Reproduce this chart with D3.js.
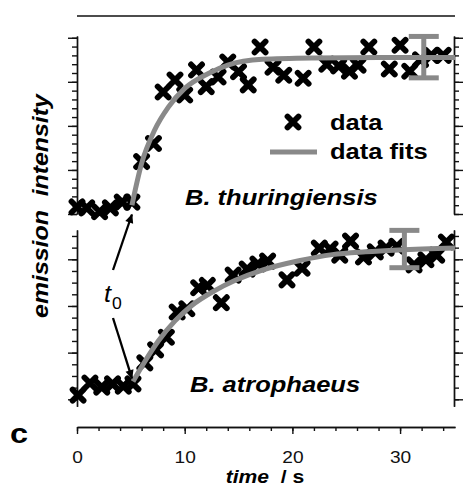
<!DOCTYPE html>
<html>
<head>
<meta charset="utf-8">
<script src="https://cdn.jsdelivr.net/npm/d3@7"></script>
<style>
  body { margin: 0; background: #fff; }
  text { font-family: "Liberation Sans", Arial, sans-serif; }
</style>
</head>
<body>
<svg id="chart" width="466" height="487"></svg>
<script>
// B. thuringiensis (top panel)
var topTime = [0, 0.9, 2.1, 3.1, 4.2, 5.1, 6.0, 7.1, 8.0, 9.1, 10.0, 11.1, 12.0, 13.1, 14.0, 15.0, 15.9, 17.0,
	18.2, 19.2, 21.0, 22.0, 23.2, 24.3, 25.3, 26.1, 27.1, 29.0, 30.0, 30.9, 31.9, 32.9, 34.0];
var topData = [0.16, 0.14, 0.05, 0.14, 0.27, 0.27, 1.19, 1.60, 2.77, 3.04, 2.70, 3.27, 2.89, 3.11, 3.45, 3.23, 2.93, 3.79,
	3.33, 3.15, 3.08, 3.79, 3.40, 3.36, 3.24, 3.38, 3.79, 3.29, 3.83, 3.24, 3.50, 3.60, 3.60];
var topFitTime = [5.1, 6.0, 7.2, 8.5, 10.0, 12.2, 14.0, 17.2, 22.0, 28.0, 35.1];
var topFitVal = [0.2, 1.15, 1.9, 2.43, 2.85, 3.19, 3.38, 3.51, 3.54, 3.55, 3.55];
var topErr = { time: 32.2, mean: 3.56, half: 0.47 };

// B. atrophaeus (bottom panel)
var botTime = [0.1, 1.2, 2.3, 3.3, 4.3, 5.2, 6.3, 7.3, 8.3, 9.3, 10.2, 11.3, 12.1, 13.4, 14.5, 15.8, 16.8, 17.7,
	19.5, 20.9, 22.5, 23.5, 24.4, 25.4, 26.6, 27.7, 28.7, 29.7, 31.3, 32.4, 33.4, 34.3];
var botData = [0.09, 0.35, 0.26, 0.33, 0.28, 0.33, 0.78, 1.06, 1.33, 1.87, 1.94, 2.39, 2.44, 2.07, 2.66, 2.79, 2.90, 2.96,
	2.56, 2.81, 3.24, 3.22, 3.09, 3.39, 3.05, 3.16, 3.24, 3.28, 2.88, 2.99, 3.09, 3.37];
var botFitTime = [5.2, 6.3, 7.55, 9.1, 10.6, 12.8, 14.7, 17.2, 20.6, 23.7, 26.8, 29.9, 35.1];
var botFitVal = [0.38, 0.81, 1.25, 1.68, 2.0, 2.33, 2.55, 2.77, 2.97, 3.10, 3.16, 3.20, 3.24];
var botErr = { time: 30.4, mean: 3.22, half: 0.40 };

var xTicks = [0, 10, 20, 30];
var t0 = [5.1, 5.2];

var GRAY = "#898989";
var SX = 1.16; // text in the original is a bit wide
var CROSS = "M-5.5,-5.5L5.5,5.5M-5.5,5.5L5.5,-5.5";

var svg = d3.select("#chart");

var x = d3.scaleLinear().domain([0, 35.1]).range([77, 455]);
var yTop = d3.scaleLinear().domain([0, 4.04]).range([214, 36]);
var yBot = d3.scaleLinear().domain([-0.15, 3.63]).range([406.3, 229.9]);

function styleAxis(g) {
	g.selectAll("path, line").attr("stroke", "#111").attr("stroke-width", 1.4);
	g.selectAll("text").remove();
}

// y axes, both panels, left and right
function yAxes(scale, majors, minors) {
	[[d3.axisLeft, 77], [d3.axisRight, 454]].forEach(function(a) {
		svg.append("g").attr("transform", "translate(" + a[1] + ",0)")
			.call(a[0](scale).tickValues(minors).tickSize(5).tickSizeOuter(0).tickFormat(""))
			.call(styleAxis);
		svg.append("g").attr("transform", "translate(" + a[1] + ",0)")
			.call(a[0](scale).tickValues(majors).tickSize(9).tickSizeOuter(0).tickFormat(""))
			.call(styleAxis);
	});
}
yAxes(yTop, [0, 1, 2, 3, 4], d3.range(0, 4.01, 0.2));
yAxes(yBot, [0, 1, 2, 3], d3.range(0, 3.6, 0.25));

// frame line on top
svg.append("line").attr("x1", x(0)).attr("x2", x(35.1)).attr("y1", 16).attr("y2", 16)
	.attr("stroke", "#111").attr("stroke-width", 1.4);

// time axis
svg.append("g").attr("transform", "translate(0,427)")
	.call(d3.axisBottom(x).tickValues(d3.range(0, 35, 2)).tickSize(4).tickSizeOuter(0).tickFormat(""))
	.call(styleAxis);
var xa = svg.append("g").attr("transform", "translate(0,427)")
	.call(d3.axisBottom(x).tickValues(xTicks).tickSize(7).tickSizeOuter(0));
xa.selectAll("path, line").attr("stroke", "#111").attr("stroke-width", 1.4);
xa.selectAll("text").attr("y", 36).attr("dy", null)
	.attr("font-size", 16.5).attr("fill", "#111")
	.attr("font-family", "'Liberation Sans', Arial, sans-serif")
	.attr("transform", "scale(" + SX + ",1)");

function drawPanel(time, vals, fitT, fitV, err, y) {
	var g = svg.append("g");
	g.selectAll("path.pt").data(time).enter().append("path")
		.attr("class", "pt")
		.attr("transform", function(d, i) { return "translate(" + x(d) + "," + y(vals[i]) + ")"; })
		.attr("d", CROSS)
		.attr("stroke", "#000").attr("stroke-width", 5.8).attr("stroke-linecap", "round");

	var line = d3.line()
		.x(function(d) { return x(d); })
		.y(function(d, i) { return y(fitV[i]); })
		.curve(d3.curveMonotoneX);
	g.append("path").attr("d", line(fitT))
		.attr("fill", "none").attr("stroke", GRAY).attr("stroke-width", 5);

	var ex = x(err.time), eTop = y(err.mean + err.half), eBot = y(err.mean - err.half);
	g.append("line").attr("x1", ex).attr("x2", ex).attr("y1", eTop).attr("y2", eBot)
		.attr("stroke", GRAY).attr("stroke-width", 5);
	[eTop, eBot].forEach(function(yy) {
		g.append("line").attr("x1", ex - 15).attr("x2", ex + 15).attr("y1", yy).attr("y2", yy)
			.attr("stroke", GRAY).attr("stroke-width", 5);
	});
}
drawPanel(topTime, topData, topFitTime, topFitVal, topErr, yTop);
drawPanel(botTime, botData, botFitTime, botFitVal, botErr, yBot);

function label(txt, px, py, size, opts) {
	opts = opts || {};
	return svg.append("text")
		.attr("transform", "translate(" + px + "," + py + ")" + (opts.rotate ? " rotate(" + opts.rotate + ")" : "") + " scale(" + (opts.sx || SX) + ",1)")
		.attr("text-anchor", opts.anchor || "start")
		.attr("font-size", size)
		.attr("font-weight", opts.weight || "bold")
		.attr("font-style", opts.style || "normal")
		.attr("fill", "#000")
		.style("white-space", "pre")
		.text(txt);
}

// legend
svg.append("path").attr("transform", "translate(293,122)")
	.attr("d", CROSS)
	.attr("stroke", "#000").attr("stroke-width", 5.8).attr("stroke-linecap", "round");
label("data", 330, 130, 22);
svg.append("line").attr("x1", 270).attr("x2", 317).attr("y1", 152).attr("y2", 152)
	.attr("stroke", GRAY).attr("stroke-width", 5);
label("data fits", 330, 159, 22);

label("B. thuringiensis", 185, 205, 22, { style: "italic" });
label("B. atrophaeus", 190, 392, 22, { style: "italic" });

// t0 marker with two arrows
svg.append("defs").append("marker").attr("id", "arr")
	.attr("viewBox", "0 0 10 10").attr("refX", 9).attr("refY", 5)
	.attr("markerWidth", 5.5).attr("markerHeight", 4).attr("orient", "auto")
	.append("path").attr("d", "M0,0.5L10,5L0,9.5Z").attr("fill", "#000");
svg.append("line").attr("x1", 113).attr("y1", 270).attr("x2", x(t0[0])).attr("y2", yTop(0) + 0.5)
	.attr("stroke", "#000").attr("stroke-width", 2.3).attr("marker-end", "url(#arr)");
svg.append("line").attr("x1", 113).attr("y1", 318).attr("x2", x(t0[1]) - 1).attr("y2", yBot(0.45))
	.attr("stroke", "#000").attr("stroke-width", 2.3).attr("marker-end", "url(#arr)");
label("t", 104, 302, 23, { style: "italic", weight: "normal", sx: 1.1 });
label("0", 112, 309, 16, { weight: "normal", sx: 1.1 });

// axis titles
label("emission  intensity", 48, 206, 22, { style: "italic", anchor: "middle", rotate: -90, sx: 1.13 });
var tt = svg.append("text")
	.attr("transform", "translate(265,482.5) scale(" + (SX * 1.04) + ",1)")
	.attr("text-anchor", "middle").attr("font-size", 17.5).attr("font-weight", "bold")
	.style("white-space", "pre");
tt.append("tspan").attr("font-style", "italic").text("time");
tt.append("tspan").text("  / s");

label("c", 10, 443, 28);
</script>
</body>
</html>
